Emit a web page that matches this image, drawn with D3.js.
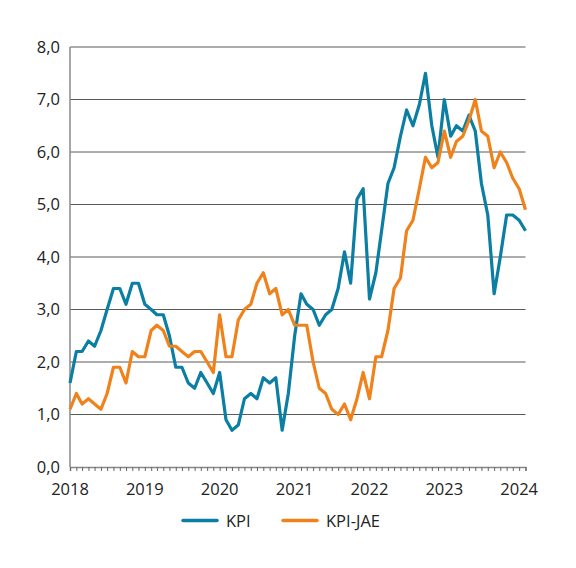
<!DOCTYPE html>
<html>
<head>
<meta charset="utf-8">
<script src="https://cdn.jsdelivr.net/npm/d3@7"></script>
<style>
  body { margin: 0; background: #fff; }
  svg text { font-family: "Open Sans", sans-serif; fill: #222; }
</style>
</head>
<body>
<svg id="chart" width="576" height="568"></svg>
<script>
// monthly 12-month change, Jan 2018 - Feb 2024
const startMonth = "2018-01";
const kpi = [
  1.6, 2.2, 2.2, 2.4, 2.3, 2.6, 3.0, 3.4, 3.4, 3.1, 3.5, 3.5,
  3.1, 3.0, 2.9, 2.9, 2.5, 1.9, 1.9, 1.6, 1.5, 1.8, 1.6, 1.4,
  1.8, 0.9, 0.7, 0.8, 1.3, 1.4, 1.3, 1.7, 1.6, 1.7, 0.7, 1.4,
  2.5, 3.3, 3.1, 3.0, 2.7, 2.9, 3.0, 3.4, 4.1, 3.5, 5.1, 5.3,
  3.2, 3.7, 4.5, 5.4, 5.7, 6.3, 6.8, 6.5, 6.9, 7.5, 6.5, 5.9,
  7.0, 6.3, 6.5, 6.4, 6.7, 6.4, 5.4, 4.8, 3.3, 4.0, 4.8, 4.8,
  4.7, 4.5
];
const kpiJae = [
  1.1, 1.4, 1.2, 1.3, 1.2, 1.1, 1.4, 1.9, 1.9, 1.6, 2.2, 2.1,
  2.1, 2.6, 2.7, 2.6, 2.3, 2.3, 2.2, 2.1, 2.2, 2.2, 2.0, 1.8,
  2.9, 2.1, 2.1, 2.8, 3.0, 3.1, 3.5, 3.7, 3.3, 3.4, 2.9, 3.0,
  2.7, 2.7, 2.7, 2.0, 1.5, 1.4, 1.1, 1.0, 1.2, 0.9, 1.3, 1.8,
  1.3, 2.1, 2.1, 2.6, 3.4, 3.6, 4.5, 4.7, 5.3, 5.9, 5.7, 5.8,
  6.4, 5.9, 6.2, 6.3, 6.6, 7.0, 6.4, 6.3, 5.7, 6.0, 5.8, 5.5,
  5.3, 4.9
];
const yTicks = [0, 1, 2, 3, 4, 5, 6, 7, 8];
const yearLabels = ["2018", "2019", "2020", "2021", "2022", "2023", "2024"];
const seriesNames = ["KPI", "KPI-JAE"];

const colors = ["#0b7ea4", "#f0821c"];

const svg = d3.select("#chart");
const margin = { top: 47, right: 50, bottom: 100, left: 70 };
const width = 576, height = 568;

const parse = d3.timeParse("%Y-%m");
const t0 = parse(startMonth);
const months = kpi.map((d, i) => d3.timeMonth.offset(t0, i));

const x = d3.scaleTime()
    .domain([months[0], months[months.length - 1]])
    .range([margin.left, 525.5]);
const y = d3.scaleLinear()
    .domain([0, 8])
    .range([height - margin.bottom - 1, margin.top]);

/* gridlines */
svg.append("g")
    .selectAll("line")
    .data(yTicks.filter(d => d > 0))
    .enter().append("line")
    .attr("x1", margin.left)
    .attr("x2", x.range()[1])
    .attr("y1", d => y(d))
    .attr("y2", d => y(d))
    .attr("stroke", "#5a5a5a")
    .attr("stroke-width", 1);

/* y labels */
svg.append("g")
    .selectAll("text")
    .data(yTicks)
    .enter().append("text")
    .attr("x", 60)
    .attr("y", d => y(d))
    .attr("dy", "0.35em")
    .attr("text-anchor", "end")
    .style("font-size", "16.5px")
    .text(d => d3.format(".1f")(d).replace(".", ","));

/* x axis with monthly ticks */
const xAxis = d3.axisBottom(x)
    .tickValues(months)
    .tickSize(4)
    .tickFormat("");
const xg = svg.append("g")
    .attr("transform", `translate(0,${y(0)})`)
    .call(xAxis);
xg.select(".domain").attr("stroke", "#888").attr("stroke-width", 1.5);
xg.selectAll(".tick line").attr("stroke", "#666");

svg.append("line")
    .attr("x1", margin.left).attr("x2", margin.left)
    .attr("y1", y(8)).attr("y2", y(0))
    .attr("stroke", "#888").attr("stroke-width", 1.5);

svg.append("g")
    .selectAll("text")
    .data(yearLabels)
    .enter().append("text")
    .attr("x", d => x(parse(d + "-01")))
    .attr("y", 495)
    .attr("text-anchor", "middle")
    .style("font-size", "16.5px")
    .text(d => d);

/* lines */
const line = d3.line()
    .x((d, i) => x(months[i]))
    .y(d => y(d));

[kpi, kpiJae].forEach((s, k) => {
    svg.append("path")
        .datum(s)
        .attr("fill", "none")
        .attr("stroke", colors[k])
        .attr("stroke-width", 3.2)
        .attr("stroke-linejoin", "round")
        .attr("d", line);
});

/* legend */
const legendX = [183, 283];
seriesNames.forEach((name, k) => {
    svg.append("line")
        .attr("x1", legendX[k]).attr("x2", legendX[k] + 34)
        .attr("y1", 520.5).attr("y2", 520.5)
        .attr("stroke", colors[k])
        .attr("stroke-width", 3.5)
        .attr("stroke-linecap", "round");
    svg.append("text")
        .attr("x", legendX[k] + 43)
        .attr("y", 527)
        .style("font-size", "16.5px")
        .text(name);
});
</script>
</body>
</html>
